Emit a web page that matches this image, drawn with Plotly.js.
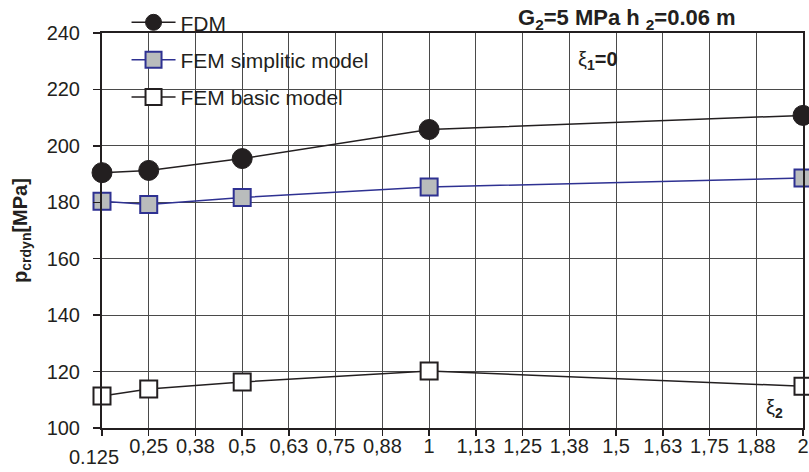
<!DOCTYPE html>
<html>
<head>
<meta charset="utf-8">
<script src="https://cdn.plot.ly/plotly-3.0.1.min.js"></script>
<style>html,body{margin:0;padding:0;background:#fff;}#chart{width:809px;height:472px;}</style>
</head>
<body>
<div id="chart"></div>
<script>
var categories = ["0.125","0,25","0,38","0,5","0,63","0,75","0,88","1","1,13","1,25","1,38","1,5","1,63","1,75","1,88","2"];
var xPoints = ["0.125","0,25","0,5","1","2"];
var fdm = [190.5, 191.3, 195.5, 205.8, 210.8];
var femSimplitic = [180.4, 179.2, 181.7, 185.4, 188.6];
var femBasic = [111.3, 113.8, 116.3, 120.2, 114.8];
var yTicks = [100, 120, 140, 160, 180, 200, 220, 240];

var idx = categories.map(function(c, i){ return i; });
var xIdx = xPoints.map(function(c){ return categories.indexOf(c); });
var tickText = categories.map(function(c, i){ return i === 0 ? "" : c; });

var FONT = "Liberation Sans, Arial, sans-serif";
var INK = "#231f20";

var traces = [
  {x: xIdx, y: fdm, name: "FDM", type: "scatter", mode: "lines+markers", legendgroup: "a",
   line: {color: INK, width: 1.5},
   marker: {symbol: "circle", size: 20, color: INK, line: {color: INK, width: 1}}, cliponaxis: false},
  {x: xIdx, y: femSimplitic, name: "FEM simplitic model", type: "scatter", mode: "lines+markers", legendgroup: "b",
   line: {color: "#2e3192", width: 1.5},
   marker: {symbol: "square", size: 17, color: "#b9bcbc", line: {color: "#2e3192", width: 2}}, cliponaxis: false},
  {x: xIdx, y: femBasic, name: "FEM basic model", type: "scatter", mode: "lines+markers", legendgroup: "c",
   line: {color: INK, width: 1.5},
   marker: {symbol: "square", size: 17, color: "#ffffff", line: {color: INK, width: 2}}, cliponaxis: false}
];

var layout = {
  width: 809, height: 472,
  margin: {l: 102, r: 6, t: 33, b: 44, pad: 0, autoexpand: false},
  paper_bgcolor: "#ffffff", plot_bgcolor: "#ffffff",
  font: {family: FONT, size: 20, color: INK},
  showlegend: true,
  legend: {x: 0.035, y: 1.078, xanchor: "left", yanchor: "top", bgcolor: "rgba(0,0,0,0)",
           font: {family: FONT, size: 21, color: INK}, tracegroupgap: 7, itemwidth: 44},
  xaxis: {
    type: "linear", range: [0, 15], tickmode: "array", tickvals: idx, ticktext: tickText,
    showgrid: true, gridcolor: "#4a4a4a", gridwidth: 1,
    showline: true, linecolor: INK, linewidth: 2, mirror: true,
    ticks: "outside", ticklen: 6, tickwidth: 1.5, tickcolor: INK, ticklabelstandoff: -7,
    tickfont: {family: FONT, size: 20, color: INK}, zeroline: false
  },
  yaxis: {
    range: [100, 240], tickmode: "array", tickvals: yTicks,
    showgrid: true, gridcolor: "#4a4a4a", gridwidth: 1,
    showline: true, linecolor: INK, linewidth: 2, mirror: true,
    ticks: "outside", ticklen: 7, tickwidth: 1.5, tickcolor: INK, ticklabelstandoff: 9,
    tickfont: {family: FONT, size: 20, color: INK}, zeroline: false,
    title: {text: "<b>p<sub>crdyn</sub>[MPa]</b>", font: {family: FONT, size: 20, color: INK}, standoff: 14}
  },
  annotations: [
    {text: "0.125", xref: "x", yref: "paper", x: 0, y: -0.04, xanchor: "center", yanchor: "top", xshift: -8,
     showarrow: false, font: {family: FONT, size: 20, color: INK}},
    {text: "<b>G<sub>2</sub>=5 MPa h <sub>2</sub>=0.06 m</b>", xref: "paper", yref: "paper", x: 0.749, y: 1.036,
     xanchor: "center", yanchor: "middle", showarrow: false, font: {family: FONT, size: 22, color: INK}},
    {text: "ξ<sub><b>1</b></sub><b>=0</b>", xref: "paper", yref: "paper", x: 0.708, y: 0.93,
     xanchor: "center", yanchor: "middle", showarrow: false, font: {family: FONT, size: 20, color: INK}},
    {text: "ξ<sub><b>2</b></sub>", xref: "paper", yref: "paper", x: 0.96, y: 0.05,
     xanchor: "center", yanchor: "middle", showarrow: false, font: {family: FONT, size: 20, color: INK}}
  ]
};

Plotly.newPlot("chart", traces, layout, {displayModeBar: false, staticPlot: true});
</script>
</body>
</html>
